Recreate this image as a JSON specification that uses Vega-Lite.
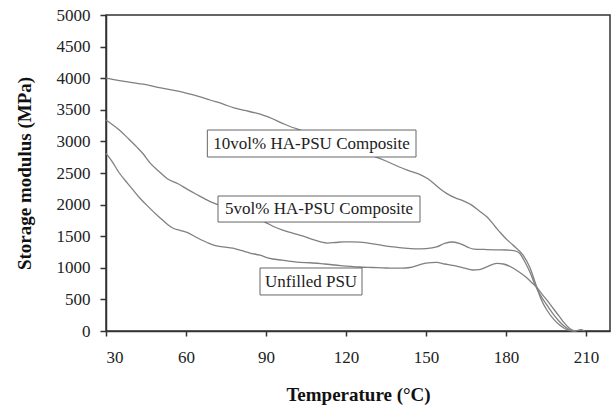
{
  "$schema": "https://vega.github.io/schema/vega-lite/v6.json",
  "autosize": "none",
  "width": 504,
  "height": 316,
  "padding": {"left": 106, "top": 15, "right": 3, "bottom": 78},
  "background": "white",
  "config": {
    "view": {"stroke": "#333", "strokeWidth": 1.5},
    "font": "Liberation Serif",
    "axis": {
      "grid": false, "format": "d", "labelOverlap": false,
      "domainColor": "#333", "domainWidth": 1.5,
      "tickColor": "#333", "tickWidth": 1.5,
      "labelFont": "Liberation Serif", "labelFontSize": 17, "labelColor": "#222",
      "titleFont": "Liberation Serif", "titleFontSize": 19, "titleFontWeight": "bold", "titleColor": "#111"
    },
    "axisX": {"tickSize": 5, "labelPadding": 13, "titlePadding": 20},
    "axisY": {"tickSize": 6, "labelPadding": 10, "titlePadding": 22}
  },
  "datasets": {
    "curves": [
      {"s": "10vol", "t": 30, "e": 4000}, {"s": "10vol", "t": 35, "e": 3960}, {"s": "10vol", "t": 40, "e": 3930}, {"s": "10vol", "t": 44, "e": 3905},
      {"s": "10vol", "t": 50, "e": 3850}, {"s": "10vol", "t": 55, "e": 3810}, {"s": "10vol", "t": 60, "e": 3765}, {"s": "10vol", "t": 65, "e": 3710},
      {"s": "10vol", "t": 69, "e": 3655}, {"s": "10vol", "t": 74, "e": 3590}, {"s": "10vol", "t": 78, "e": 3530}, {"s": "10vol", "t": 82, "e": 3490},
      {"s": "10vol", "t": 86, "e": 3450}, {"s": "10vol", "t": 91, "e": 3385}, {"s": "10vol", "t": 96, "e": 3290}, {"s": "10vol", "t": 100, "e": 3220},
      {"s": "10vol", "t": 103, "e": 3180}, {"s": "10vol", "t": 110, "e": 3060}, {"s": "10vol", "t": 118, "e": 2940}, {"s": "10vol", "t": 125, "e": 2840},
      {"s": "10vol", "t": 130, "e": 2770}, {"s": "10vol", "t": 135, "e": 2690}, {"s": "10vol", "t": 140, "e": 2595}, {"s": "10vol", "t": 144, "e": 2530},
      {"s": "10vol", "t": 148, "e": 2470}, {"s": "10vol", "t": 151, "e": 2400}, {"s": "10vol", "t": 155, "e": 2260}, {"s": "10vol", "t": 158, "e": 2170},
      {"s": "10vol", "t": 161, "e": 2105}, {"s": "10vol", "t": 164, "e": 2060}, {"s": "10vol", "t": 167, "e": 1995}, {"s": "10vol", "t": 170, "e": 1900},
      {"s": "10vol", "t": 173, "e": 1800}, {"s": "10vol", "t": 176, "e": 1650}, {"s": "10vol", "t": 178, "e": 1550}, {"s": "10vol", "t": 180, "e": 1460},
      {"s": "10vol", "t": 182.6, "e": 1360}, {"s": "10vol", "t": 186.4, "e": 1200}, {"s": "10vol", "t": 189, "e": 1000}, {"s": "10vol", "t": 191, "e": 760},
      {"s": "10vol", "t": 193, "e": 520}, {"s": "10vol", "t": 195.5, "e": 320}, {"s": "10vol", "t": 198, "e": 180}, {"s": "10vol", "t": 200, "e": 100},
      {"s": "10vol", "t": 202, "e": 40}, {"s": "10vol", "t": 204, "e": 5}, {"s": "10vol", "t": 206, "e": 0}, {"s": "10vol", "t": 208, "e": 20}, {"s": "10vol", "t": 209.5, "e": 0},

      {"s": "5vol", "t": 30, "e": 3340}, {"s": "5vol", "t": 35, "e": 3180}, {"s": "5vol", "t": 38, "e": 3060}, {"s": "5vol", "t": 41.6, "e": 2910},
      {"s": "5vol", "t": 44, "e": 2800}, {"s": "5vol", "t": 46.5, "e": 2660}, {"s": "5vol", "t": 50, "e": 2520}, {"s": "5vol", "t": 53, "e": 2410},
      {"s": "5vol", "t": 57, "e": 2330}, {"s": "5vol", "t": 60.4, "e": 2245}, {"s": "5vol", "t": 64, "e": 2160}, {"s": "5vol", "t": 68, "e": 2070},
      {"s": "5vol", "t": 70, "e": 2030}, {"s": "5vol", "t": 75, "e": 1950}, {"s": "5vol", "t": 82, "e": 1840}, {"s": "5vol", "t": 89.6, "e": 1724},
      {"s": "5vol", "t": 93, "e": 1650}, {"s": "5vol", "t": 96, "e": 1600}, {"s": "5vol", "t": 100, "e": 1550}, {"s": "5vol", "t": 104, "e": 1500},
      {"s": "5vol", "t": 108, "e": 1440}, {"s": "5vol", "t": 113, "e": 1392}, {"s": "5vol", "t": 116, "e": 1400}, {"s": "5vol", "t": 119, "e": 1410},
      {"s": "5vol", "t": 122, "e": 1410}, {"s": "5vol", "t": 125, "e": 1405}, {"s": "5vol", "t": 130, "e": 1380}, {"s": "5vol", "t": 134, "e": 1350},
      {"s": "5vol", "t": 138, "e": 1330}, {"s": "5vol", "t": 142, "e": 1310}, {"s": "5vol", "t": 146, "e": 1300}, {"s": "5vol", "t": 150, "e": 1305},
      {"s": "5vol", "t": 154, "e": 1330}, {"s": "5vol", "t": 157, "e": 1385}, {"s": "5vol", "t": 160, "e": 1408}, {"s": "5vol", "t": 163, "e": 1380},
      {"s": "5vol", "t": 166, "e": 1320}, {"s": "5vol", "t": 168, "e": 1297}, {"s": "5vol", "t": 172, "e": 1290}, {"s": "5vol", "t": 176, "e": 1285},
      {"s": "5vol", "t": 180, "e": 1282}, {"s": "5vol", "t": 183, "e": 1270}, {"s": "5vol", "t": 185, "e": 1234}, {"s": "5vol", "t": 187, "e": 1100},
      {"s": "5vol", "t": 189, "e": 930}, {"s": "5vol", "t": 191, "e": 720}, {"s": "5vol", "t": 193, "e": 560}, {"s": "5vol", "t": 195.5, "e": 400},
      {"s": "5vol", "t": 198, "e": 250}, {"s": "5vol", "t": 200, "e": 150}, {"s": "5vol", "t": 202, "e": 70}, {"s": "5vol", "t": 204, "e": 15}, {"s": "5vol", "t": 206, "e": 0},

      {"s": "unf", "t": 30, "e": 2810}, {"s": "unf", "t": 32, "e": 2700}, {"s": "unf", "t": 35, "e": 2500}, {"s": "unf", "t": 38, "e": 2340},
      {"s": "unf", "t": 40, "e": 2240}, {"s": "unf", "t": 42.75, "e": 2100}, {"s": "unf", "t": 46, "e": 1960}, {"s": "unf", "t": 50, "e": 1800},
      {"s": "unf", "t": 53, "e": 1690}, {"s": "unf", "t": 55, "e": 1630}, {"s": "unf", "t": 58, "e": 1590}, {"s": "unf", "t": 60.4, "e": 1560},
      {"s": "unf", "t": 64, "e": 1480}, {"s": "unf", "t": 67.9, "e": 1400}, {"s": "unf", "t": 71, "e": 1350}, {"s": "unf", "t": 74, "e": 1330},
      {"s": "unf", "t": 77.6, "e": 1310}, {"s": "unf", "t": 81, "e": 1270}, {"s": "unf", "t": 84, "e": 1234}, {"s": "unf", "t": 87.75, "e": 1200},
      {"s": "unf", "t": 91, "e": 1155}, {"s": "unf", "t": 96, "e": 1120}, {"s": "unf", "t": 102.75, "e": 1085}, {"s": "unf", "t": 106.5, "e": 1080},
      {"s": "unf", "t": 112, "e": 1060}, {"s": "unf", "t": 118, "e": 1035}, {"s": "unf", "t": 125, "e": 1013}, {"s": "unf", "t": 130, "e": 1005},
      {"s": "unf", "t": 135, "e": 997}, {"s": "unf", "t": 141, "e": 995}, {"s": "unf", "t": 144, "e": 1005}, {"s": "unf", "t": 147, "e": 1040},
      {"s": "unf", "t": 150, "e": 1075}, {"s": "unf", "t": 154, "e": 1085}, {"s": "unf", "t": 157, "e": 1060}, {"s": "unf", "t": 160, "e": 1040},
      {"s": "unf", "t": 164, "e": 1000}, {"s": "unf", "t": 167.6, "e": 965}, {"s": "unf", "t": 170, "e": 970}, {"s": "unf", "t": 173, "e": 1020},
      {"s": "unf", "t": 176.6, "e": 1070}, {"s": "unf", "t": 179, "e": 1060}, {"s": "unf", "t": 182.6, "e": 997}, {"s": "unf", "t": 185, "e": 930},
      {"s": "unf", "t": 187.9, "e": 838}, {"s": "unf", "t": 190, "e": 750}, {"s": "unf", "t": 191.6, "e": 690}, {"s": "unf", "t": 193, "e": 610},
      {"s": "unf", "t": 195.5, "e": 480}, {"s": "unf", "t": 198, "e": 340}, {"s": "unf", "t": 200, "e": 230}, {"s": "unf", "t": 202, "e": 120},
      {"s": "unf", "t": 204, "e": 35}, {"s": "unf", "t": 206, "e": 0}
    ],
    "labels": [
      {"label": "10vol% HA-PSU Composite", "x1": 68, "x2": 146.25, "y1": 2753, "y2": 3180, "tx": 107.1, "ty": 2966},
      {"label": "5vol% HA-PSU Composite", "x1": 72, "x2": 147.75, "y1": 1724, "y2": 2136, "tx": 109.9, "ty": 1930},
      {"label": "Unfilled PSU", "x1": 87.75, "x2": 126, "y1": 570, "y2": 997, "tx": 106.9, "ty": 783}
    ]
  },
  "layer": [
    {
      "data": {"name": "curves"},
      "mark": {"type": "line", "color": "#808080", "strokeWidth": 1.3, "interpolate": "monotone"},
      "encoding": {
        "x": {
          "field": "t", "type": "quantitative",
          "scale": {"domain": [30, 219], "nice": false, "zero": false},
          "axis": {"values": [30, 60, 90, 120, 150, 180, 210], "title": "Temperature (°C)"}
        },
        "y": {
          "field": "e", "type": "quantitative",
          "scale": {"domain": [0, 5000], "nice": false},
          "axis": {"values": [0, 500, 1000, 1500, 2000, 2500, 3000, 3500, 4000, 4500, 5000], "title": "Storage modulus (MPa)"}
        },
        "detail": {"field": "s", "type": "nominal"}
      }
    },
    {
      "data": {"name": "labels"},
      "mark": {"type": "rect", "fill": "white", "stroke": "#666", "strokeWidth": 1},
      "encoding": {
        "x": {"field": "x1", "type": "quantitative", "axis": {"values": [30, 60, 90, 120, 150, 180, 210], "title": "Temperature (°C)"}},
        "x2": {"field": "x2"},
        "y": {"field": "y1", "type": "quantitative", "axis": {"values": [0, 500, 1000, 1500, 2000, 2500, 3000, 3500, 4000, 4500, 5000], "title": "Storage modulus (MPa)"}},
        "y2": {"field": "y2"}
      }
    },
    {
      "data": {"name": "labels"},
      "mark": {"type": "text", "font": "Liberation Serif", "fontSize": 17, "color": "#222", "align": "center", "baseline": "middle"},
      "encoding": {
        "x": {"field": "tx", "type": "quantitative", "axis": {"values": [30, 60, 90, 120, 150, 180, 210], "title": "Temperature (°C)"}},
        "y": {"field": "ty", "type": "quantitative", "axis": {"values": [0, 500, 1000, 1500, 2000, 2500, 3000, 3500, 4000, 4500, 5000], "title": "Storage modulus (MPa)"}},
        "text": {"field": "label"}
      }
    }
  ]
}
